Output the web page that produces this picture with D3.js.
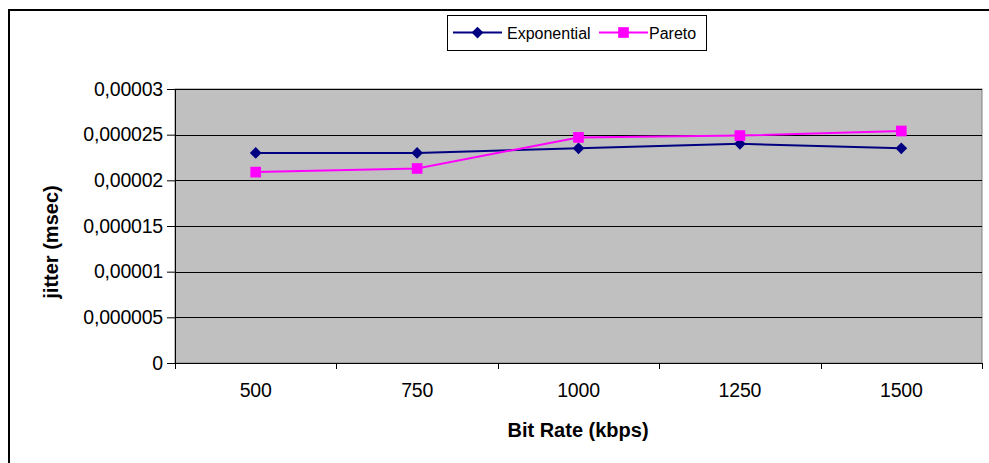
<!DOCTYPE html>
<html><head><meta charset="utf-8">
<script src="https://cdn.jsdelivr.net/npm/d3@7"></script>
<style>body{margin:0;background:#fff}svg{display:block;font-family:"Liberation Sans",Arial,sans-serif}</style>
</head><body>
<svg id="c" width="989" height="463"></svg>
<script>
const categories = ["500","750","1000","1250","1500"];
const exponential = [0.0000230, 0.0000230, 0.0000235, 0.0000240, 0.0000235];
const pareto = [0.0000209, 0.0000213, 0.0000247, 0.0000249, 0.0000254];
const yTicks = [0, 0.000005, 0.00001, 0.000015, 0.00002, 0.000025, 0.00003];
const yTickLabels = ["0","0,000005","0,00001","0,000015","0,00002","0,000025","0,00003"];
const seriesNames = ["Exponential","Pareto"];

const svg = d3.select("#c");
const L = 175, R = 982, T = 89, B = 363;

svg.append("rect").attr("x",9).attr("y",10).attr("width",1000).attr("height",500)
  .attr("fill","#fff").attr("stroke","#000").attr("stroke-width",2);

const x = d3.scaleBand().domain(categories).range([L,R]);
const y = d3.scaleLinear().domain([0,0.00003]).range([B,T]);

svg.append("rect").attr("x",L).attr("y",T).attr("width",R-L).attr("height",B-T)
  .attr("fill","#C0C0C0").attr("stroke","#808080").attr("stroke-width",1);

// gridlines
svg.append("g").selectAll("line").data(yTicks.slice(1)).join("line")
  .attr("x1",L).attr("x2",R).attr("y1",d=>Math.round(y(d))+0.5).attr("y2",d=>Math.round(y(d))+0.5)
  .attr("stroke","#000").attr("stroke-width",1);

// y axis
const yAxis = d3.axisLeft(y).tickValues(yTicks).tickFormat((d,i)=>yTickLabels[i]).tickSize(8).tickPadding(4);
const gy = svg.append("g").attr("transform",`translate(${L},0)`).call(yAxis);
gy.select(".domain").attr("stroke","#000").attr("d",`M0.5,${T}V${B}`);
gy.selectAll(".tick line").attr("stroke","#000");
gy.selectAll("text").attr("font-size",19.5).attr("fill","#000").attr("font-family","Liberation Sans, Arial").attr("letter-spacing",-0.2);

// x axis
const gx = svg.append("g").attr("transform",`translate(0,${B})`);
gx.append("line").attr("x1",L).attr("x2",R).attr("y1",0.5).attr("y2",0.5).attr("stroke","#000");
const bounds = categories.map(c=>x(c)).concat([R]);
gx.selectAll("line.t").data(bounds).join("line").attr("class","t")
  .attr("x1",d=>Math.round(d)+0.5).attr("x2",d=>Math.round(d)+0.5).attr("y1",0).attr("y2",6).attr("stroke","#000");
gx.selectAll("text").data(categories).join("text")
  .attr("x",d=>x(d)+x.bandwidth()/2).attr("y",34).attr("text-anchor","middle")
  .attr("font-size",19.5).attr("letter-spacing",-0.2).text(d=>d);

// titles
svg.append("text").attr("x",578).attr("y",437).attr("text-anchor","middle")
  .attr("font-size",20).attr("font-weight","bold").text("Bit Rate (kbps)");
svg.append("text").attr("transform","translate(58,242) rotate(-90)").attr("text-anchor","middle")
  .attr("font-size",20).attr("font-weight","bold").text("jitter (msec)");

const cx = d => x(d)+x.bandwidth()/2;
const line = d3.line().x((d,i)=>cx(categories[i])).y(d=>y(d));
const colors = ["#000080","#FF00FF"];
const sym = [d3.symbol().type(d3.symbolDiamond2).size(88), d3.symbol().type(d3.symbolSquare).size(114)];

[exponential, pareto].forEach((s,k)=>{
  svg.append("path").attr("d",line(s)).attr("fill","none").attr("stroke",colors[k]).attr("stroke-width",2);
});
[exponential, pareto].forEach((s,k)=>{
  svg.append("g").selectAll("path").data(s).join("path")
    .attr("transform",(d,i)=>`translate(${cx(categories[i])},${y(d)})`)
    .attr("d",sym[k]()).attr("fill",colors[k]);
});

// legend
const lg = svg.append("g");
lg.append("rect").attr("x",447.5).attr("y",15.5).attr("width",259).attr("height",35)
  .attr("fill","#fff").attr("stroke","#000").attr("stroke-width",1);
const legX = [453, 599], legTextX = [507, 649];
seriesNames.forEach((n,k)=>{
  lg.append("line").attr("x1",legX[k]).attr("x2",legX[k]+49).attr("y1",32.5).attr("y2",32.5)
    .attr("stroke",colors[k]).attr("stroke-width",2);
  lg.append("path").attr("transform",`translate(${legX[k]+24.5},32.5)`).attr("d",sym[k]()).attr("fill",colors[k]);
  lg.append("text").attr("x",legTextX[k]).attr("y",38.5).attr("font-size",16).text(n);
});
</script>
</body></html>
